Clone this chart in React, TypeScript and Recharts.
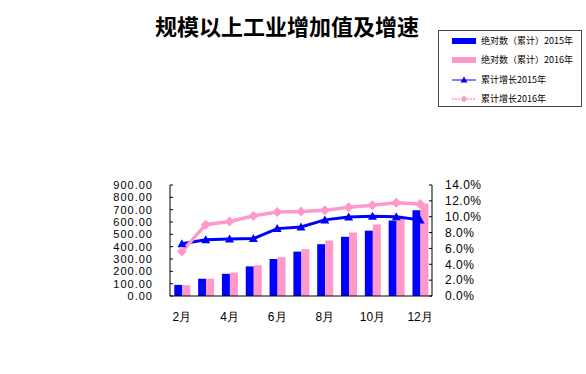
import React from 'react';
import { ComposedChart, Bar, Line, XAxis, YAxis, Legend } from 'recharts';

const months = ['2月', '3月', '4月', '5月', '6月', '7月', '8月', '9月', '10月', '11月', '12月'];
const abs2015 = [90, 140, 180, 240, 300, 360, 420, 480, 530, 612, 695];
const abs2016 = [88, 140, 190, 250, 315, 380, 450, 515, 580, 625, 750];
const growth2015 = [6.6, 7.1, 7.2, 7.25, 8.5, 8.7, 9.6, 9.97, 10.05, 10.0, 9.6];
const growth2016 = [5.6, 9.0, 9.4, 10.1, 10.6, 10.65, 10.8, 11.2, 11.45, 11.75, 11.6];
const leftTicks = [0, 100, 200, 300, 400, 500, 600, 700, 800, 900];
const rightTicks = [0, 2, 4, 6, 8, 10, 12, 14];
const seriesNames = ['绝对数（累计）2015年', '绝对数（累计）2016年', '累计增长2015年', '累计增长2016年'];
const title = '规模以上工业增加值及增速';

const BLUE = '#0000FF';
const PINK = '#FF99CC';
const FONT = '"Liberation Sans", Arial, sans-serif';
const CJK = '"Noto Sans CJK SC", "Liberation Sans", sans-serif';

const data = months.map((m, i) => ({
  month: m,
  a15: abs2015[i],
  a16: abs2016[i],
  g15: growth2015[i],
  g16: growth2016[i],
}));

const Triangle = (props: any) => {
  const { cx, cy, index } = props;
  if (cx == null || cy == null) return <g key={`t${index}`} />;
  return (
    <polygon
      key={`t${index}`}
      points={`${cx},${cy - 4.5} ${cx - 4.5},${cy + 3.5} ${cx + 4.5},${cy + 3.5}`}
      fill={BLUE}
    />
  );
};

const Diamond = (props: any) => {
  const { cx, cy, index } = props;
  if (cx == null || cy == null) return <g key={`d${index}`} />;
  return (
    <polygon
      key={`d${index}`}
      points={`${cx},${cy - 5} ${cx + 5},${cy} ${cx},${cy + 5} ${cx - 5},${cy}`}
      fill={PINK}
    />
  );
};

const LegendIcon = ({ i }: { i: number }) => {
  if (i === 0) return <svg width={24} height={10}><rect x={0} y={2} width={24} height={6} fill={BLUE} /></svg>;
  if (i === 1) return <svg width={24} height={10}><rect x={0} y={2} width={24} height={6} fill={PINK} /></svg>;
  if (i === 2)
    return (
      <svg width={24} height={10}>
        <line x1={0} y1={5} x2={24} y2={5} stroke={BLUE} strokeWidth={1} />
        <polygon points="12,1.5 8.5,7.5 15.5,7.5" fill={BLUE} />
      </svg>
    );
  return (
    <svg width={24} height={10}>
      <line x1={0} y1={5} x2={24} y2={5} stroke={PINK} strokeWidth={1.5} strokeDasharray="2 1" />
      <polygon points="12,1.5 15.5,5 12,8.5 8.5,5" fill={PINK} />
    </svg>
  );
};

const renderLegend = () => (
  <div
    style={{
      position: 'relative',
      width: 144,
      height: 77,
      border: '1px solid #444',
      boxSizing: 'border-box',
      background: '#fff',
    }}
  >
    {seriesNames.map((name, i) => (
      <div
        key={name}
        style={{
          position: 'absolute',
          left: 13,
          top: 4 + i * 19.3,
          height: 12,
          display: 'flex',
          alignItems: 'center',
          whiteSpace: 'nowrap',
        }}
      >
        <LegendIcon i={i} />
        <span style={{ marginLeft: 5, fontFamily: CJK, fontSize: 9, color: '#000', lineHeight: '12px' }}>{name}</span>
      </div>
    ))}
  </div>
);

export default function App() {
  return (
    <div style={{ position: 'absolute', left: 0, top: 0, width: 586, height: 374, background: '#fff' }}>
      <div
        style={{
          position: 'absolute',
          left: 0,
          top: 12,
          width: 574,
          textAlign: 'center',
          fontFamily: CJK,
          fontWeight: 'bold',
          fontSize: 22,
          lineHeight: '26px',
          color: '#000',
          zIndex: 2,
        }}
      >
        {title}
      </div>
      <ComposedChart
        width={586}
        height={374}
        data={data}
        margin={{ top: 185, right: 94, bottom: 48, left: 0 }}
        barCategoryGap="18%"
        barGap={0}
      >
        <XAxis
          xAxisId="b"
          dataKey="month"
          interval={1}
          tickLine={false}
          axisLine={{ stroke: '#000', strokeWidth: 1 }}
          tickSize={0}
          tickMargin={16}
          height={30}
          tick={{ fontSize: 12, fill: '#000', fontFamily: FONT }}
        />
        <XAxis
          xAxisId="t"
          dataKey="month"
          orientation="top"
          height={0}
          tick={false}
          tickLine={false}
          axisLine={{ stroke: '#888', strokeDasharray: '1 1' }}
        />
        <YAxis
          yAxisId="l"
          domain={[0, 900]}
          ticks={leftTicks}
          interval={0}
          width={170}
          tickFormatter={(v: number) => v.toFixed(2)}
          tickSize={-3}
          tickMargin={20}
          axisLine={{ stroke: '#000' }}
          tickLine={{ stroke: '#000' }}
          tick={{ fontSize: 11, fill: '#000', fontFamily: FONT, letterSpacing: 1 }}
        />
        <YAxis
          yAxisId="r"
          orientation="right"
          domain={[0, 14]}
          ticks={rightTicks}
          interval={0}
          width={60}
          tickFormatter={(v: number) => `${v.toFixed(1)}%`}
          tickSize={-3}
          tickMargin={16}
          axisLine={{ stroke: '#000' }}
          tickLine={{ stroke: '#000' }}
          tick={{ fontSize: 12, fill: '#000', fontFamily: FONT, letterSpacing: 0.5, textAnchor: 'start' }}
        />
        <Legend
          layout="horizontal"
          verticalAlign="middle"
          align="center"
          content={renderLegend}
          wrapperStyle={{ position: 'absolute', left: 438, top: 30, width: 144, height: 77 }}
        />
        <Bar xAxisId="b" yAxisId="l" dataKey="a15" name={seriesNames[0]} fill={BLUE} isAnimationActive={false} />
        <Bar xAxisId="b" yAxisId="l" dataKey="a16" name={seriesNames[1]} fill={PINK} isAnimationActive={false} />
        <Line
          xAxisId="b"
          yAxisId="r"
          dataKey="g15"
          name={seriesNames[2]}
          stroke={BLUE}
          strokeWidth={3}
          dot={Triangle}
          activeDot={false}
          isAnimationActive={false}
        />
        <Line
          xAxisId="b"
          yAxisId="r"
          dataKey="g16"
          name={seriesNames[3]}
          stroke={PINK}
          strokeWidth={3.5}
          dot={Diamond}
          activeDot={false}
          isAnimationActive={false}
        />
      </ComposedChart>
    </div>
  );
}
